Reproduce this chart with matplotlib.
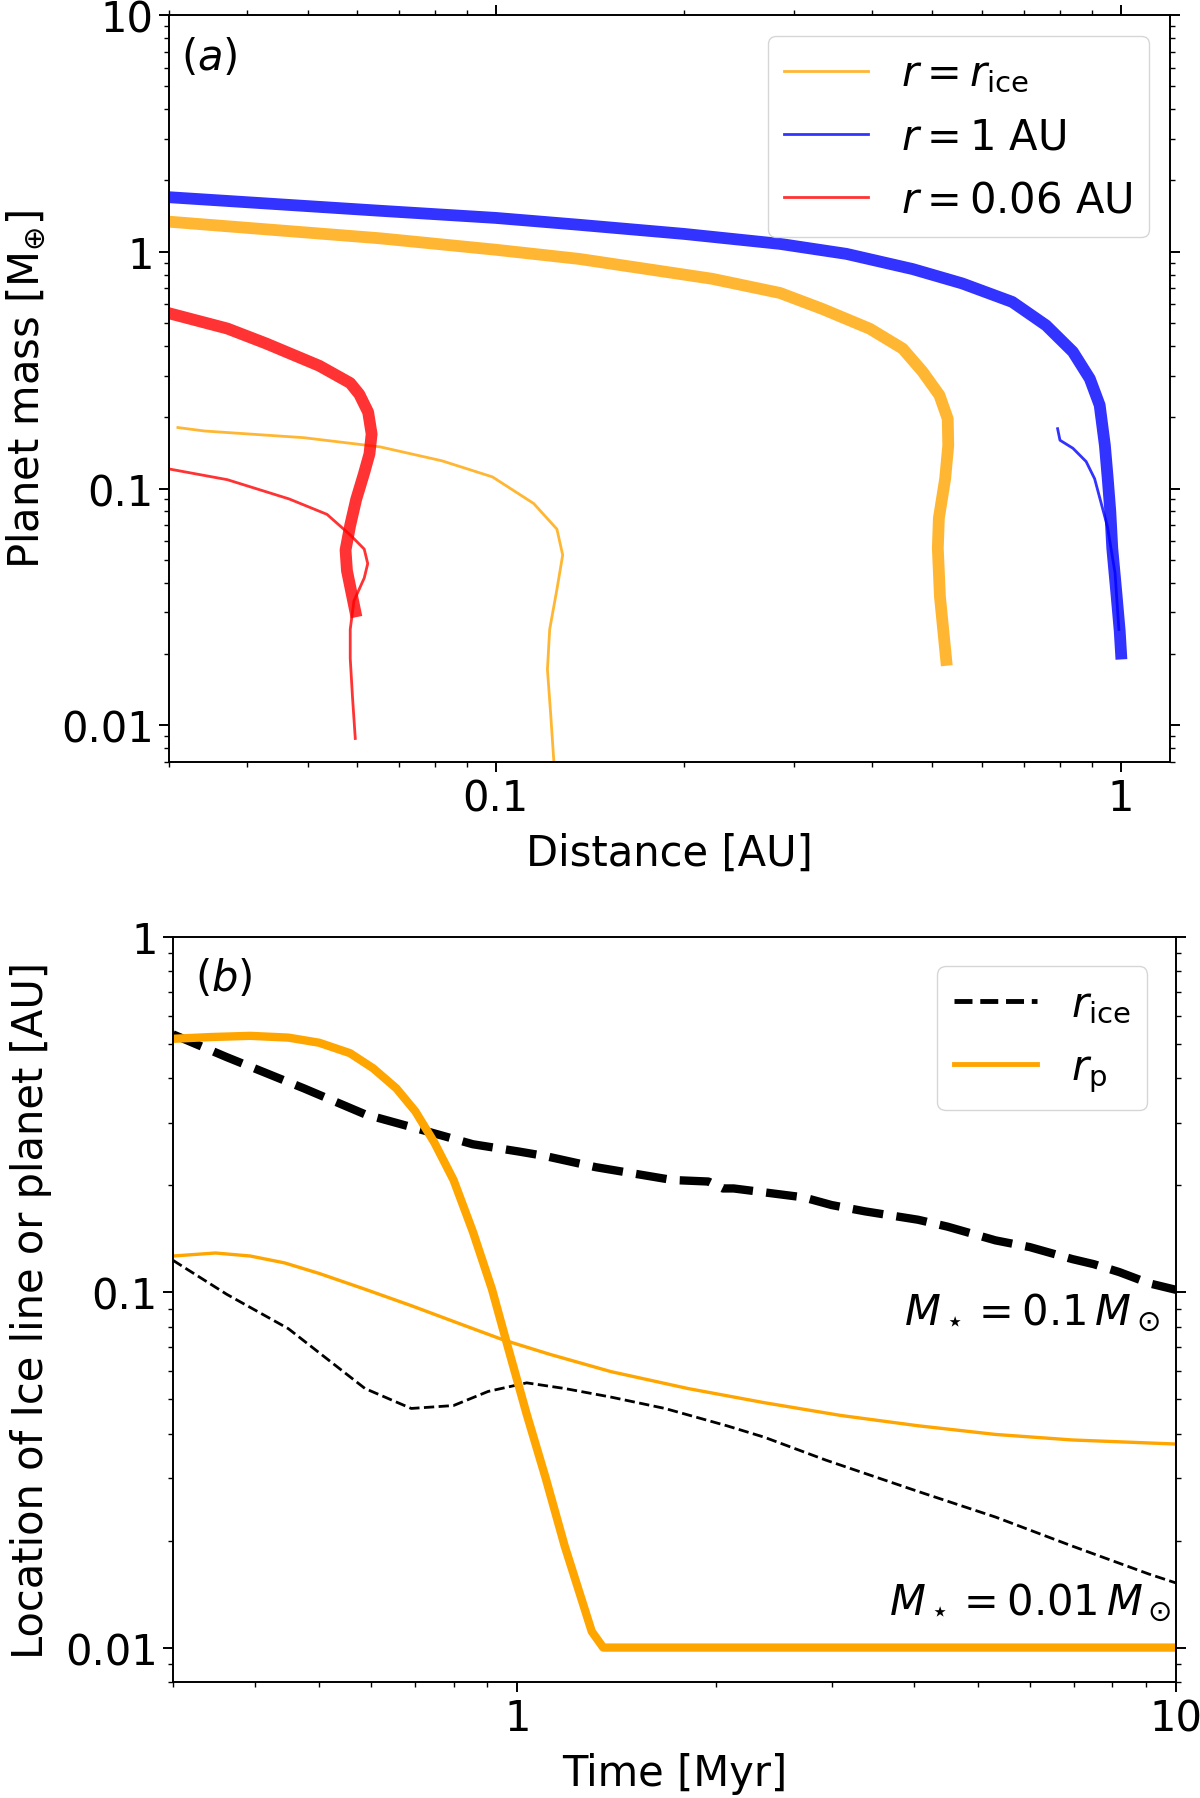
import numpy as np
import matplotlib
matplotlib.use("Agg")
import matplotlib.pyplot as plt
from matplotlib.lines import Line2D
from matplotlib.ticker import FuncFormatter, LogLocator, NullFormatter

# ------------------------------------------------------------
# Panel (a): planet mass vs distance
# ------------------------------------------------------------
# thick curves
x_1au_big = [0.030, 0.0653, 0.1, 0.136, 0.2, 0.285, 0.364, 0.465, 0.558, 0.671, 0.760,
             0.839, 0.893, 0.926, 0.944, 0.954, 0.963, 0.97, 0.985, 0.997, 1.002]
m_1au_big = [1.70, 1.49, 1.39, 1.30, 1.19, 1.08, 0.98, 0.845, 0.735, 0.614, 0.489,
             0.378, 0.291, 0.225, 0.152, 0.110, 0.08, 0.056, 0.036, 0.025, 0.0201]

x_ice_big = [0.030, 0.0653, 0.1, 0.136, 0.222, 0.285, 0.333, 0.397, 0.448, 0.482,
             0.513, 0.529, 0.530, 0.524, 0.512, 0.510, 0.514, 0.526]
m_ice_big = [1.34, 1.14, 1.02, 0.933, 0.769, 0.67, 0.574, 0.473, 0.39, 0.312,
             0.248, 0.197, 0.152, 0.11, 0.075, 0.056, 0.035, 0.0189]

x_006_big = [0.030, 0.0372, 0.0429, 0.0522, 0.0585, 0.0605, 0.0625, 0.0633, 0.0628,
             0.0615, 0.0598, 0.0585, 0.0575, 0.0578, 0.0596]
m_006_big = [0.55, 0.474, 0.41, 0.33, 0.279, 0.25, 0.21, 0.17, 0.14,
             0.115, 0.09, 0.07, 0.055, 0.045, 0.0303]

# thin curves
x_ice_small = [0.031, 0.0342, 0.0493, 0.0653, 0.082, 0.0988, 0.115, 0.1253, 0.128,
               0.1253, 0.122, 0.121, 0.1225, 0.124]
m_ice_small = [0.181, 0.175, 0.164, 0.150, 0.131, 0.112, 0.0865, 0.0674, 0.0524,
               0.0375, 0.0254, 0.0172, 0.011, 0.0068]

x_1au_small = [0.793, 0.80, 0.839, 0.881, 0.909, 0.953, 0.98, 0.994]
m_1au_small = [0.179, 0.160, 0.148, 0.130, 0.110, 0.069, 0.044, 0.0254]

x_006_small = [0.030, 0.0372, 0.0467, 0.0537, 0.0585, 0.0616, 0.0624, 0.0616, 0.0593,
               0.0585, 0.0585, 0.059, 0.0596]
m_006_small = [0.121, 0.109, 0.0904, 0.0778, 0.0637, 0.0555, 0.0482, 0.0419, 0.0335,
               0.0254, 0.0192, 0.0131, 0.0088]

# ------------------------------------------------------------
# Panel (b): ice line / planet location vs time
# ------------------------------------------------------------
t_rp_big = [0.3, 0.343, 0.393, 0.449, 0.5, 0.557, 0.604, 0.655, 0.70, 0.748, 0.80,
            0.856, 0.915, 0.966, 1.033, 1.104, 1.18, 1.297, 1.35, 10]
rp_big = [0.517, 0.523, 0.527, 0.521, 0.504, 0.471, 0.427, 0.375, 0.323, 0.264, 0.207,
          0.148, 0.102, 0.0708, 0.0454, 0.030, 0.0193, 0.0111, 0.01, 0.01]

t_rp_small = [0.3, 0.348, 0.393, 0.443, 0.5, 0.587, 0.69, 0.811, 0.953, 1.12, 1.387,
              1.815, 2.37, 3.1, 4.06, 5.32, 6.96, 10]
rp_small = [0.1265, 0.129, 0.1265, 0.121, 0.113, 0.102, 0.0917, 0.082, 0.0734, 0.0669,
            0.0598, 0.0536, 0.0489, 0.045, 0.0421, 0.0398, 0.0384, 0.0374]

t_rice_big = [0.3, 0.362, 0.474, 0.587, 0.728, 0.856, 1.005, 1.1, 1.315, 1.72, 1.95,
              2.05, 2.13, 2.72, 3.0, 3.37, 4.06, 4.5, 5.32, 6.0, 6.96, 7.5, 8.2, 9.1, 10]
rice_big = [0.532, 0.459, 0.375, 0.317, 0.284, 0.261, 0.249, 0.242, 0.225, 0.207, 0.205,
            0.196, 0.196, 0.185, 0.176, 0.169, 0.160, 0.153, 0.140, 0.134, 0.124, 0.120,
            0.114, 0.106, 0.1016]

t_rice_small = [0.3, 0.362, 0.449, 0.587, 0.69, 0.80, 0.903, 1.033, 1.18, 1.387, 1.675,
                2.08, 2.37, 2.94, 4.06, 5.32, 6.96, 9.1, 10]
rice_small = [0.123, 0.0987, 0.079, 0.0536, 0.0471, 0.048, 0.0526, 0.0556, 0.0536,
              0.0507, 0.0471, 0.0421, 0.0391, 0.0337, 0.0275, 0.0233, 0.0193, 0.0161,
              0.0152]

plt.rcParams['font.size'] = 30
plt.rcParams['axes.linewidth'] = 1.4
plt.rcParams['axes.labelpad'] = 9

fmt = FuncFormatter(lambda v, p: f'{v:g}')


def style_axis(ax, top=True):
    ax.set_xscale('log')
    ax.set_yscale('log')
    ax.tick_params(which='major', direction='out', length=7.5, width=1.4,
                   top=top, right=True)
    ax.tick_params(which='minor', direction='out', length=3.5, width=1.0,
                   top=top, right=True)
    ax.xaxis.set_major_formatter(fmt)
    ax.yaxis.set_major_formatter(fmt)
    ax.xaxis.set_minor_formatter(NullFormatter())
    ax.yaxis.set_minor_formatter(NullFormatter())
    ax.yaxis.set_minor_locator(LogLocator(subs=np.arange(2, 10)))
    ax.xaxis.set_minor_locator(LogLocator(subs=np.arange(2, 10)))


fig = plt.figure(figsize=(12, 17.99), dpi=100)
W, H = 1200, 1799
ax1 = fig.add_axes([169 / W, 1 - 763 / H, (1170 - 169) / W, (763 - 16) / H])
ax2 = fig.add_axes([173 / W, 1 - 1683 / H, (1176 - 173) / W, (1683 - 938) / H])

# ---------------- panel a ----------------
lw_big, lw_small, a = 8.5, 2, 0.8
ax1.plot(x_ice_small, m_ice_small, color='orange', lw=lw_small, alpha=a, label=r'$r = r_{\rm ice}$')
ax1.plot(x_1au_small, m_1au_small, color='blue', lw=lw_small, alpha=a, label=r'$r = 1$ AU')
ax1.plot(x_006_small, m_006_small, color='red', lw=lw_small, alpha=a, label=r'$r = 0.06$ AU')
ax1.plot(x_ice_big, m_ice_big, color='orange', lw=lw_big, alpha=a)
ax1.plot(x_1au_big, m_1au_big, color='blue', lw=lw_big, alpha=a)
ax1.plot(x_006_big, m_006_big, color='red', lw=lw_big, alpha=a)
style_axis(ax1)
ax1.set_xlim(0.03, 1.2)
ax1.set_ylim(0.007, 10)
ax1.set_xlabel('Distance [AU]')
ax1.set_ylabel(r'Planet mass [M$_{\oplus}$]')
ax1.text(0.012, 0.944, r'$(a)$', transform=ax1.transAxes, ha='left', va='center')
ax1.legend(loc='upper right')

# ---------------- panel b ----------------
ax2.plot(t_rice_big, rice_big, color='black', ls='--', lw=6)
ax2.plot(t_rice_small, rice_small, color='black', ls='--', lw=2)
ax2.plot(t_rp_small, rp_small, color='orange', lw=2.4)
ax2.plot(t_rp_big, rp_big, color='orange', lw=6)
style_axis(ax2, top=False)
ax2.set_xlim(0.3, 10)
ax2.set_ylim(0.008, 1)
ax2.set_xlabel('Time [Myr]')
ax2.set_ylabel('Location of Ice line or planet [AU]')
ax2.text(0.022, 0.945, r'$(b)$', transform=ax2.transAxes, ha='left', va='center')
ax2.text(9.45, 0.0816, r'$M_\star = 0.1\,M_\odot$', ha='right', va='baseline')
ax2.text(9.86, 0.0124, r'$M_\star = 0.01\,M_\odot$', ha='right', va='baseline')
handles_b = [Line2D([], [], color='black', ls='--', lw=3.5),
             Line2D([], [], color='orange', lw=3.5)]
ax2.legend(handles_b, [r'$r_{\rm ice}$', r'$r_{\rm p}$'], loc='upper right',
           borderaxespad=0.7)

fig.savefig('out.png', dpi=100)
